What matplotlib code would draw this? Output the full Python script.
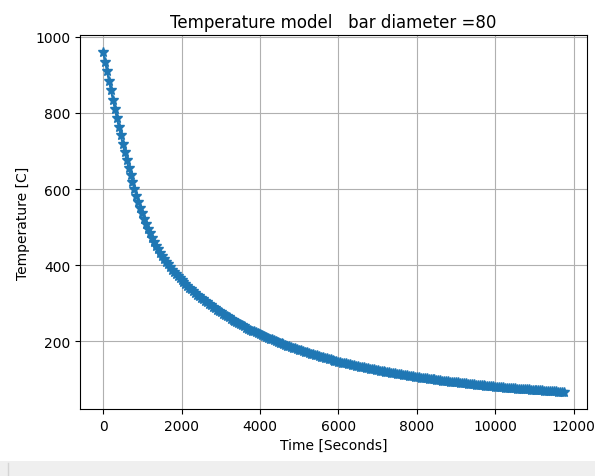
import numpy as np
import matplotlib
matplotlib.use("Agg")
import matplotlib.pyplot as plt
from matplotlib.patches import Rectangle
from matplotlib.lines import Line2D

# Bar cooling curve, one reading every 50 seconds
time_step = 50
temperature = [
    960.0, 934.5, 909.3, 884.3, 859.5, 835.0, 810.8, 787.1, 763.9, 741.1,
    718.8, 697.1, 676.1, 655.8, 636.3, 617.5, 599.6, 582.7, 566.5, 551.0,
    536.3, 522.3, 509.1, 496.3, 484.1, 472.5, 461.6, 451.4, 441.9, 433.1,
    425.0, 417.2, 409.7, 402.5, 395.5, 388.8, 382.8, 377.1, 371.6, 366.3,
    361.3,
    356.2, 351.2, 346.3, 341.5, 336.8, 332.2, 327.7, 323.3, 319.0, 314.8,
    310.7, 306.6, 302.6, 298.7, 294.8, 291.0, 287.3, 283.7, 280.1, 276.6,
    273.1, 269.8, 266.5, 263.2, 260.1, 257.0, 253.9, 250.9, 248.0, 245.1,
    242.2, 239.4, 236.7, 234.0, 231.3, 228.7, 226.2, 223.7, 221.2, 218.8,
    216.5, 214.2, 211.9, 209.7, 207.5, 205.4, 203.3, 201.2, 199.1, 197.0,
    195.0, 193.0, 191.1, 189.2, 187.3, 185.4, 183.6, 181.8, 180.0, 178.3,
    176.5, 174.8, 173.1, 171.4, 169.8, 168.1, 166.5, 164.9, 163.3, 161.8,
    160.2, 158.7, 157.2, 155.7, 154.3, 152.8, 151.4, 150.0, 148.6, 147.3,
    146.0, 144.7, 143.5, 142.2, 141.0, 139.8, 138.6, 137.5, 136.3, 135.1,
    134.0, 132.9, 131.8, 130.7, 129.6, 128.6, 127.5, 126.5, 125.5, 124.5,
    123.5, 122.6, 121.6, 120.7, 119.8, 118.8, 117.9, 117.0, 116.1, 115.3,
    114.4, 113.6, 112.7, 111.9, 111.0, 110.2, 109.4, 108.6, 107.8, 107.0,
    106.2, 105.4, 104.7, 103.9, 103.2, 102.5, 101.7, 101.0, 100.3, 99.6,
    98.9, 98.2, 97.5, 96.8, 96.2, 95.5, 94.8, 94.2, 93.5, 92.9,
    92.3, 91.6, 91.0, 90.4, 89.8, 89.2, 88.6, 88.0, 87.5, 86.9,
    86.3, 85.8, 85.2, 84.7, 84.1, 83.6, 83.1, 82.5, 82.0, 81.5,
    81.0, 80.6, 80.1, 79.6, 79.1, 78.7, 78.2, 77.8, 77.3, 76.9,
    76.4, 76.0, 75.6, 75.2, 74.8, 74.4, 74.0, 73.6, 73.2, 72.8,
    72.4, 72.0, 71.6, 71.3, 70.9, 70.5, 70.2, 69.8, 69.5, 69.1,
    68.8, 68.4, 68.1, 67.7, 67.4,
]
time = np.arange(len(temperature)) * time_step
bar_diameter = 80

fig = plt.figure(figsize=(5.95, 4.77), dpi=100)
ax = fig.add_axes([0.1345, 0.1405, 0.852, 0.784])

ax.plot(time, temperature, '*-', markersize=7)
ax.set_title("Temperature model   bar diameter =" + str(bar_diameter))
ax.set_xlabel("Time [Seconds]")
ax.set_ylabel("Temperature [C]")
ax.grid(True)

# grey strip of the window toolbar at the bottom
fig.patches.append(Rectangle((0, 0), 1, 15 / 477, transform=fig.transFigure,
                             facecolor='#efefef', edgecolor='none'))
fig.lines.append(Line2D([8 / 595, 8 / 595], [0, 13 / 477], transform=fig.transFigure,
                        color='#d4d4d4', linewidth=1))

fig.savefig("out.png", dpi=100)
